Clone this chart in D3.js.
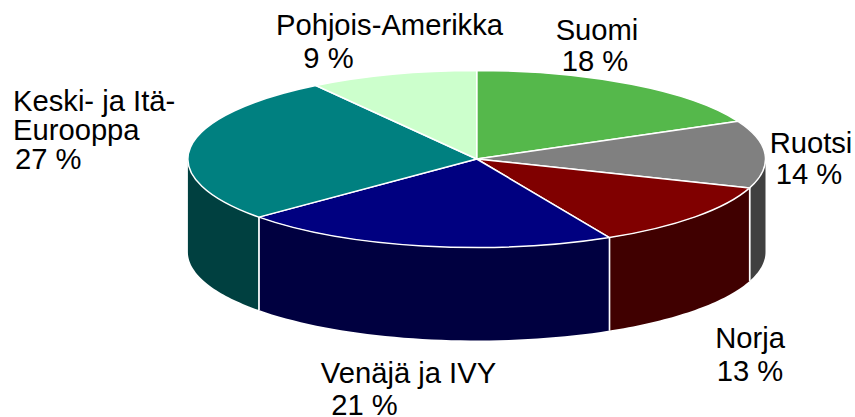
<!DOCTYPE html>
<html><head><meta charset="utf-8">
<script src="https://cdn.jsdelivr.net/npm/d3@7"></script>
<style>html,body{margin:0;padding:0;background:#fff}svg{display:block}text{font-family:"Liberation Sans",Arial,sans-serif;font-size:29.2px;fill:#000}</style>
</head><body><svg id="c" width="855" height="417"></svg>
<script>
const categories = ["Suomi","Ruotsi","Norja","Venäjä ja IVY","Keski- ja Itä-Eurooppa","Pohjois-Amerikka"];
const sliceShares = [18,12.3,12.1,21.2,27,9.4];
const percentLabels = ["18 %","14 %","13 %","21 %","27 %","9 %"];
const topColors = ["#55b84b","#808080","#800000","#000080","#008080","#ccffcc"];
const sideColors = ["#2a5c25","#404040","#400000","#000040","#004040","#668066"];
const labelLines = [["Suomi"],["Ruotsi"],["Norja"],["Venäjä ja IVY"],["Keski- ja Itä-","Eurooppa"],["Pohjois-Amerikka"]];
const labelPlace = [[597,40,"middle"],[811,152.5,"middle"],[750,348,"middle"],[408.5,383,"middle"],[13,111,"start"],[389.5,35,"middle"]];
const percentPlace = [[595,71],[809,184],[750,381],[364.5,415],[15,169],[328.5,68]];

const cx=476.7, cy=159, rx=288.8, ry=88.5, depth=93;
const svg=d3.select("#c");
const arcs=d3.pie().sort(null).value(d=>d)(sliceShares);
const px=t=>cx+rx*Math.sin(t), py=t=>cy-ry*Math.cos(t);
const curve=(a,b,dy)=>d3.range(0,41).map(i=>{const t=a+(b-a)*i/40;return [px(t),py(t)+dy];});
const line=d3.line();

// side wall
const walls=svg.append("g");
arcs.forEach((d,i)=>{
  const a=Math.max(d.startAngle,Math.PI/2), b=Math.min(d.endAngle,Math.PI*1.5);
  if(b<=a) return;
  const pts=curve(a,b,0).concat(curve(a,b,depth).reverse());
  walls.append("path").attr("d",line(pts)+"Z").attr("fill",sideColors[i]);
  [d.startAngle,d.endAngle].forEach(t=>{
    if(t>Math.PI/2&&t<Math.PI*1.5) walls.append("path")
      .attr("d",line([[px(t),py(t)],[px(t),py(t)+depth]]))
      .attr("stroke","#fff").attr("stroke-width",1.5).attr("fill","none");
  });
});

// top face
const arcGen=d3.arc().innerRadius(0).outerRadius(rx);
const topFace=svg.append("g").attr("transform",`translate(${cx},${cy}) scale(1,${ry/rx})`);
topFace.selectAll("path").data(arcs).join("path")
  .attr("d",arcGen).attr("fill",(d,i)=>topColors[i])
  .attr("stroke","#fff").attr("stroke-width",1.5).attr("vector-effect","non-scaling-stroke").attr("stroke-linejoin","round");

// labels
categories.forEach((c,i)=>{
  const [x,y,anchor]=labelPlace[i], lines=labelLines[i];
  const t=svg.append("text").attr("text-anchor",anchor);
  lines.forEach((l,j)=>t.append("tspan").attr("x",x).attr("y",y+j*29).text(l));
  t.append("tspan").attr("x",percentPlace[i][0]).attr("y",percentPlace[i][1]).text(percentLabels[i]);
});
</script></body></html>
